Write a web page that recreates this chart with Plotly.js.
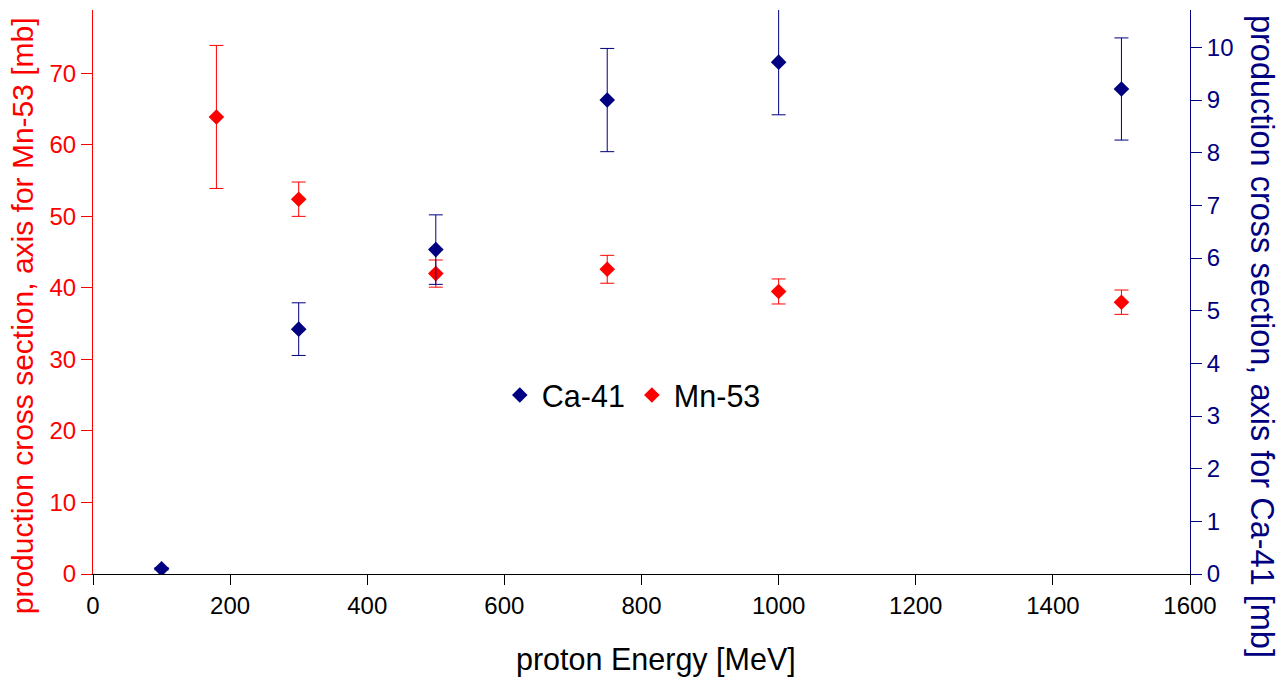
<!DOCTYPE html>
<html>
<head>
<meta charset="utf-8">
<script src="https://cdn.plot.ly/plotly-3.0.1.min.js"></script>
<style>html,body{margin:0;padding:0;background:#fff;}#chart{width:1286px;height:684px;}</style>
</head>
<body>
<div id="chart"></div>
<script>
// Ca-41 (right axis)
var caEnergy = [100, 300, 500, 750, 1000, 1500];
var caValue  = [0.1, 4.65, 6.16, 9.0, 9.72, 9.21];
var caError  = [0.02, 0.5, 0.66, 0.98, 1.0, 0.97];

// Mn-53 (left axis)
var mnEnergy = [180, 300, 500, 750, 1000, 1500];
var mnValue  = [63.9, 52.4, 42.0, 42.6, 39.5, 38.0];
var mnError  = [10.0, 2.4, 1.9, 1.95, 1.75, 1.7];

var xTicks = [0, 200, 400, 600, 800, 1000, 1200, 1400, 1600];

var NAVY = '#000080', RED = '#FF0000';
var FONT = '"Liberation Sans", Arial, sans-serif';

var traces = [
  {
    name: 'Ca-41', x: caEnergy, y: caValue, yaxis: 'y2', type: 'scatter', mode: 'markers',
    marker: {symbol: 'diamond', size: 12, color: NAVY},
    error_y: {type: 'data', array: caError, visible: true, color: NAVY, thickness: 1, width: 7}
  },
  {
    name: 'Mn-53', x: mnEnergy, y: mnValue, yaxis: 'y', type: 'scatter', mode: 'markers',
    marker: {symbol: 'diamond', size: 12, color: RED},
    error_y: {type: 'data', array: mnError, visible: true, color: RED, thickness: 1, width: 7}
  }
];

var layout = {
  width: 1286, height: 684,
  margin: {l: 93, r: 96, t: 10, b: 110, pad: 0},
  paper_bgcolor: '#fff', plot_bgcolor: '#fff',
  font: {family: FONT, size: 24, color: '#000'},
  showlegend: true,
  legend: {orientation: 'h', x: 0.369, y: 0.317, xanchor: 'left', yanchor: 'middle',
           bgcolor: 'rgba(0,0,0,0)', font: {size: 30.5, color: '#000'}, itemwidth: 34},
  xaxis: {
    range: [0, 1600], tickvals: xTicks, ticktext: xTicks.map(String),
    showgrid: false, zeroline: false, showline: true, linecolor: '#000', linewidth: 1,
    ticks: 'outside', ticklen: 10, tickcolor: '#000', tickfont: {size: 24, color: '#000'}
  },
  yaxis: {
    range: [0, 78.85], dtick: 10, tick0: 0,
    showgrid: false, zeroline: false, showline: true, linecolor: RED, linewidth: 1,
    ticks: 'outside', ticklen: 11, tickcolor: RED, tickfont: {size: 24, color: RED}
  },
  yaxis2: {
    range: [0, 10.71], dtick: 1, tick0: 0, overlaying: 'y', side: 'right', anchor: 'x',
    showgrid: false, zeroline: false, showline: true, linecolor: NAVY, linewidth: 1,
    ticks: 'outside', ticklen: 11, tickcolor: NAVY, tickfont: {size: 24, color: NAVY}
  },
  annotations: [
    {text: 'proton Energy [MeV]', xref: 'paper', yref: 'paper',
     x: 0.513, y: -0.152, showarrow: false, xanchor: 'center', yanchor: 'middle',
     font: {size: 30.5, color: '#000'}},
    {text: 'production cross section, axis for Mn-53 [mb]', xref: 'paper', yref: 'paper',
     x: -0.0647, y: 0.457, textangle: -90, showarrow: false, xanchor: 'center', yanchor: 'middle',
     font: {size: 30, color: RED}},
    {text: 'production cross section, axis for Ca-41 [mb]', xref: 'paper', yref: 'paper',
     x: 1.0657, y: 0.422, textangle: 90, showarrow: false, xanchor: 'center', yanchor: 'middle',
     font: {size: 32.5, color: NAVY}}
  ]
};

Plotly.newPlot('chart', traces, layout, {displayModeBar: false, staticPlot: true});
</script>
</body>
</html>
